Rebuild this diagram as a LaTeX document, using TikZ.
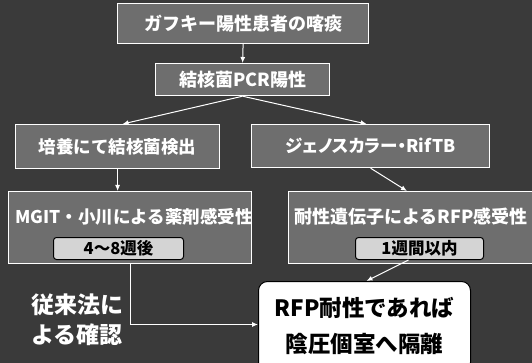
\documentclass[tikz,border=0pt]{standalone}
\usepackage{fontspec}
\newfontfamily\jp{Noto Sans CJK JP}
\newfontfamily\jpp{Noto Sans CJK JP}[RawFeature=+palt]
\usetikzlibrary{arrows.meta,calc}
\definecolor{bgc}{HTML}{3A3A3A}
\definecolor{boxc}{HTML}{6E6E6E}
\definecolor{labc}{HTML}{D4D4D4}
\tikzset{
  darkbox/.style={draw=white, line width=1.2pt, fill=boxc, inner sep=0pt, anchor=north west},
  boxtext/.style={text=white, font=\jp\bfseries\fontsize{17.5}{18}\selectfont, inner sep=0pt},
  labbox/.style={draw=black, line width=1pt, fill=labc, rounded corners=3pt, inner sep=0pt, anchor=north west,
                 text=black, font=\jp\bfseries\fontsize{16.5}{17}\selectfont},
  conn/.style={draw=white, line width=1pt, -{Latex[length=6pt,width=5pt]}}
}
\begin{document}
\begin{tikzpicture}[x=1pt,y=-1pt]
\useasboundingbox (0,0) rectangle (532,363);
\clip (0,0) rectangle (532,363);
\fill[bgc] (0,0) rectangle (532,363);
% boxes
\node[darkbox, minimum width=251pt, minimum height=40pt, boxtext, font=\jp\bfseries\fontsize{18}{18}\selectfont] (b1) at (117,3) {ガフキー陽性患者の喀痰};
\node[darkbox, minimum width=174pt, minimum height=32pt, boxtext, font=\jp\bfseries\fontsize{18}{18}\selectfont] (b2) at (155,63) {結核菌PCR陽性};
\node[darkbox, minimum width=204pt, minimum height=44pt, boxtext] (b3) at (15,124) {培養にて結核菌検出};
\node[darkbox, minimum width=238pt, minimum height=43pt, boxtext, font=\jpp\bfseries\fontsize{17.5}{18}\selectfont] (b4) at (251,124) {ジェノスカラー・RifTB};
\node[darkbox, minimum width=243pt, minimum height=72pt] (b5) at (8,191) {};
\node[darkbox, minimum width=260pt, minimum height=72pt] (b6) at (288,191) {};
\node[boxtext, anchor=west] (t5) at (15,217) {MGIT・小川による薬剤感受性};
\node[boxtext, anchor=west, font=\jp\bfseries\fontsize{18}{18}\selectfont] (t6) at (294,217) {耐性遺伝子によるRFP感受性};
% labels
\node[labbox, minimum width=130pt, minimum height=22pt] (l1) at (53,237) {4〜8週後};
\node[labbox, minimum width=128pt, minimum height=22pt] (l2) at (355,237) {1週間以内};
% final box
\node[draw=black, line width=1pt, fill=white, rounded corners=9pt, anchor=north west, minimum width=212pt, minimum height=90pt,
      align=center, inner sep=0pt, font=\jp\bfseries\fontsize{22.5}{36}\selectfont] (fin) at (258,281) {RFP耐性であれば\\陰圧個室へ隔離};
% note
\node[anchor=north west, align=left, inner sep=0pt, text=white, font=\jp\bfseries\fontsize{23}{30}\selectfont] (note) at (31,294) {従来法に\\よる確認};
% connectors
\draw[conn] (b1.south) -- (b2.north);
\draw[conn] (b2.south) -- ($(b3.north)+(5,0)$);
\draw[conn] (b2.south) -- ($(b4.north)+(-4,0)$);
\draw[conn] (b3.south) -- (b3.south |- b5.north);
\draw[conn] (b4.south) -- ($(b6.north west)+(119,0)$);
\draw[conn] (b5.south) |- ($(fin.west)+(0,-2)$);
\draw[conn] ($(l2.south)+(-11,0)$) -- ($(fin.north)+(2,0)$);
\end{tikzpicture}
\end{document}
